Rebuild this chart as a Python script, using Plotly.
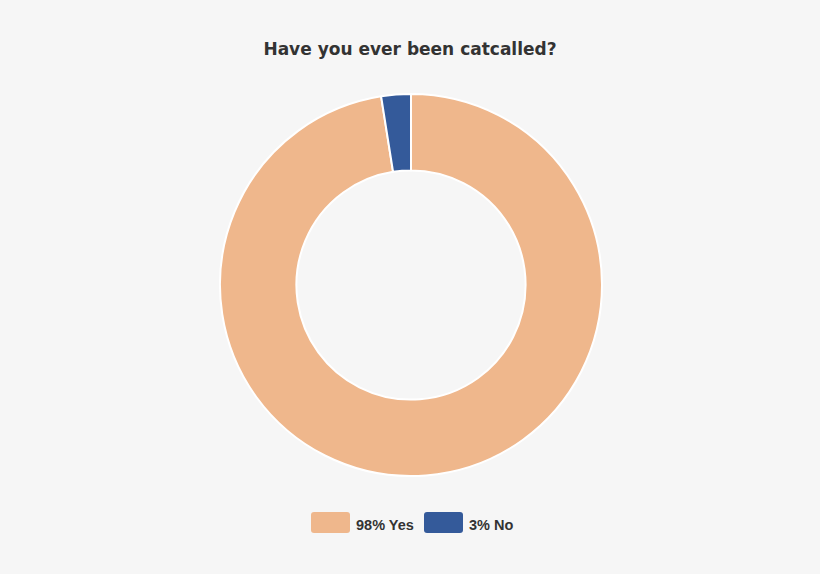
import plotly.graph_objects as go

labels = ["98% Yes", "3% No"]
values = [97.5, 2.5]
colors = ["#EFB78C", "#345A9A"]

W, H = 820, 574

fig = go.Figure()
fig.add_trace(go.Pie(labels=labels, values=values, hole=0.6, sort=False,
                     direction="clockwise", rotation=0,
                     marker=dict(colors=colors, line=dict(color="white", width=2)),
                     textinfo="none", hoverinfo="label",
                     domain=dict(x=[220 / W, 602 / W], y=[98 / H, 480 / H]),
                     showlegend=False))


def rounded_rect(x0, y0, x1, y1, r):
    # pixel coords (top-left origin) -> paper path with rounded corners
    px = lambda x: x / W
    py = lambda y: 1 - y / H
    return (f"M {px(x0 + r)},{py(y0)} L {px(x1 - r)},{py(y0)} Q {px(x1)},{py(y0)} {px(x1)},{py(y0 + r)} "
            f"L {px(x1)},{py(y1 - r)} Q {px(x1)},{py(y1)} {px(x1 - r)},{py(y1)} "
            f"L {px(x0 + r)},{py(y1)} Q {px(x0)},{py(y1)} {px(x0)},{py(y1 - r)} "
            f"L {px(x0)},{py(y0 + r)} Q {px(x0)},{py(y0)} {px(x0 + r)},{py(y0)} Z")


# custom legend (wide rounded swatches)
swatch_x = [311, 424]
for lab, col, x0 in zip(labels, colors, swatch_x):
    fig.add_shape(type="path", xref="paper", yref="paper",
                  path=rounded_rect(x0, 512, x0 + 39, 533, 3),
                  fillcolor=col, line=dict(width=0))
    fig.add_annotation(text=lab, xref="paper", yref="paper", x=(x0 + 43) / W, y=1 - 525 / H,
                       xanchor="left", yanchor="middle", showarrow=False,
                       font=dict(family="Liberation Sans", size=14.5, color="#333333", weight="bold"))

fig.update_layout(
    width=W, height=H,
    margin=dict(l=0, r=0, t=0, b=0),
    paper_bgcolor="#F6F6F6", plot_bgcolor="#F6F6F6",
    title=dict(text="<b>Have you ever been catcalled?</b>", x=0.5, xanchor="center",
               y=1 - 49 / H, yanchor="middle",
               font=dict(family="DejaVu Sans", size=17, color="#333333")),
)

fig.write_html("out.html", config={"displayModeBar": False},
               post_script="document.body.style.margin='0';")
